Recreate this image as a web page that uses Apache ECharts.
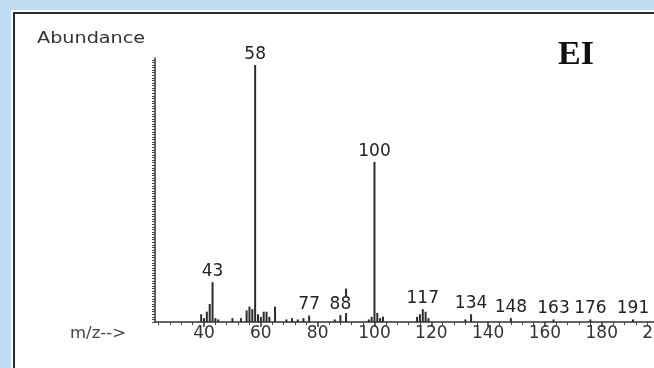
<!DOCTYPE html>
<html>
<head>
<meta charset="utf-8">
<script src="https://cdn.jsdelivr.net/npm/echarts@6/dist/echarts.min.js"></script>
<style>
  html, body { margin: 0; padding: 0; background: #bfdcf2; overflow: hidden; width: 654px; height: 368px; }
  #chart { width: 700px; height: 368px; }
</style>
</head>
<body>
<div id="chart"></div>
<script>
// m/z values of the peaks
const mzValues = [39, 40, 41, 42, 43, 44, 45, 50, 53, 55, 56, 57, 58, 59, 60, 61, 62, 63, 65,
  69, 71, 73, 75, 77, 86, 88, 90, 98, 99, 100, 101, 102, 103,
  115, 116, 117, 118, 119, 132, 134, 148, 163, 176, 191];
// relative abundance (58 = 100)
const abundance = [3, 1.5, 4, 7, 15.5, 1.5, 1, 1.5, 1.5, 4.5, 6, 5, 100, 3, 2, 4, 4, 2, 6,
  1, 1.5, 1, 1.5, 2.5, 1, 2.7, 13, 1, 2, 62.3, 3.5, 1.5, 2,
  2, 3, 5, 4, 1.5, 1, 3, 1.5, 1, 1, 1];
// peaks that carry an m/z label
const labeledPeaks = [43, 58, 77, 88, 100, 117, 134, 148, 163, 176, 191];
// x axis tick labels
const xTickLabels = [40, 60, 80, 100, 120, 140, 160, 180, 200];
const xMinorTicks = [24, 28, 32, 36, 44, 48, 52, 56, 64, 68, 72, 76, 84, 88, 92, 96, 104, 108, 112, 116,
  124, 128, 132, 136, 144, 148, 152, 156, 164, 168, 172, 176, 184, 188, 192, 196, 204, 208];
const yTickValues = [];
for (let v = 0; v <= 102; v += 1) yTickValues.push(v);

const X_MIN = 22.75, X_MAX = 210, Y_MAX = 102.7;

const chart = echarts.init(document.getElementById('chart'), null, { renderer: 'canvas' });
const FONT = 'DejaVu Sans';
chart.setOption({
  animation: false,
  backgroundColor: 'transparent',
  graphic: [
    { type: 'rect', z: -20, silent: true, shape: { x: 11, y: 10, width: 700, height: 400 }, style: { fill: '#ffffff' } },
    { type: 'rect', z: -19, silent: true, shape: { x: 14, y: 13, width: 700, height: 400 }, style: { fill: '#ffffff', stroke: '#2a2a2a', lineWidth: 2 } },
    { type: 'text', z: 5, left: 37, top: 31, scaleX: 1.2, style: { text: 'Abundance', font: '16px "DejaVu Sans"', fill: '#333' } },
    { type: 'text', z: 5, left: 70, top: 327, scaleX: 1.1, style: { text: 'm/z-->', font: '15px "DejaVu Sans"', fill: '#444' } },
    { type: 'text', z: 5, left: 558, top: 38, style: { text: 'EI', font: 'bold 34px "Liberation Serif"', fill: '#111' } }
  ],
  grid: { left: 155, top: 58, bottom: 46, right: 13, containLabel: false },
  xAxis: [{
    type: 'value', min: X_MIN, max: X_MAX, position: 'bottom',
    axisLine: { show: true, lineStyle: { color: '#333', width: 1.5 } },
    axisTick: { show: true, customValues: xTickLabels, length: 5, lineStyle: { color: '#333', width: 1.5 } },
    axisLabel: { customValues: xTickLabels, color: '#333', fontSize: 17, fontFamily: FONT, margin: 3 },
    splitLine: { show: false }
  }, {
    type: 'value', min: X_MIN, max: X_MAX, position: 'bottom',
    axisLine: { show: false },
    axisTick: { show: true, customValues: xMinorTicks, length: 3, lineStyle: { color: '#444', width: 1 } },
    axisLabel: { show: false },
    splitLine: { show: false }
  }],
  yAxis: {
    type: 'value', min: 0, max: Y_MAX,
    axisLine: { show: true, lineStyle: { color: '#333', width: 1.5 } },
    axisTick: { show: true, customValues: yTickValues, length: 3, lineStyle: { color: '#444', width: 1 } },
    axisLabel: { show: false },
    splitLine: { show: false }
  },
  series: [{
    type: 'bar',
    xAxisIndex: 0,
    barWidth: 2,
    itemStyle: { color: '#2b2b2b' },
    data: mzValues.map((m, i) => [m, abundance[i]]),
    label: {
      show: true, position: 'top', distance: 2,
      color: '#222', fontSize: 17, fontFamily: FONT,
      backgroundColor: '#fff', padding: [0, 0, 0, 0],
      formatter: p => labeledPeaks.includes(p.value[0]) ? String(p.value[0]) : ''
    }
  }]
});
</script>
</body>
</html>
